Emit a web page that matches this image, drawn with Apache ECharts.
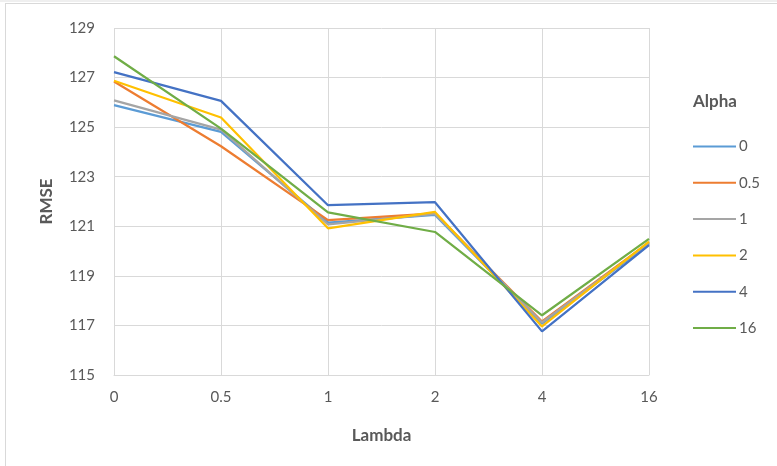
<!DOCTYPE html>
<html>
<head>
<meta charset="utf-8">
<script src="https://cdn.jsdelivr.net/npm/echarts@6/dist/echarts.min.js"></script>
<style>
  html, body { margin: 0; padding: 0; background: #ffffff; }
  #chart { width: 777px; height: 466px; }
</style>
</head>
<body>
<div id="chart"></div>
<script>
// Lambda values along the x axis
const lambdas = ['0', '0.5', '1', '2', '4', '16'];

// RMSE for each Alpha setting
const alpha0   = [125.89, 124.81, 121.15, 121.46, 117.07, 120.28];
const alpha0_5 = [126.84, 124.23, 121.25, 121.52, 117.16, 120.35];
const alpha1   = [126.08, 124.90, 121.08, 121.50, 117.12, 120.32];
const alpha2   = [126.87, 125.39, 120.92, 121.58, 116.96, 120.38];
const alpha4   = [127.22, 126.06, 121.85, 121.97, 116.76, 120.24];
const alpha16  = [127.86, 124.94, 121.56, 120.77, 117.41, 120.49];

const seriesNames = ['0', '0.5', '1', '2', '4', '16'];
const seriesData = [alpha0, alpha0_5, alpha1, alpha2, alpha4, alpha16];
const palette = ['#5b9bd5', '#ed7d31', '#a5a5a5', '#ffc000', '#4472c4', '#70ad47'];

const textColor = '#595959';
const fontFamily = 'Lato, "Open Sans", sans-serif';

const chart = echarts.init(document.getElementById('chart'), null, { renderer: 'canvas' });

const legendTop = 139;
const legendGap = 36.3;

chart.setOption({
  animation: false,
  backgroundColor: '#ffffff',
  color: palette,
  textStyle: { fontFamily: fontFamily },
  grid: { left: 114, right: 128, top: 28, bottom: 91, containLabel: false },
  xAxis: {
    type: 'category',
    data: lambdas,
    boundaryGap: false,
    name: 'Lambda',
    nameLocation: 'middle',
    nameGap: 52,
    nameTextStyle: { color: textColor, fontSize: 17, fontWeight: 'bold', fontFamily: fontFamily },
    axisLine: { show: true, lineStyle: { color: '#d9d9d9', width: 1 } },
    axisTick: { show: false },
    axisLabel: { color: textColor, fontSize: 15, margin: 15, fontFamily: fontFamily },
    splitLine: { show: true, lineStyle: { color: '#d9d9d9', width: 1 } }
  },
  yAxis: {
    type: 'value',
    min: 115,
    max: 129,
    interval: 2,
    name: 'RMSE',
    nameLocation: 'middle',
    nameGap: 59,
    nameRotate: 90,
    nameTextStyle: { color: textColor, fontSize: 17, fontWeight: 'bold', fontFamily: fontFamily },
    axisLine: { show: false },
    axisTick: { show: false },
    axisLabel: { color: textColor, fontSize: 15, margin: 19, fontFamily: fontFamily },
    splitLine: { show: true, lineStyle: { color: '#d9d9d9', width: 1 } }
  },
  legend: seriesNames.map((n, i) => ({
    data: [n],
    orient: 'vertical',
    left: 693,
    top: legendTop + i * legendGap,
    itemWidth: 43,
    itemHeight: 14,
    itemGap: 0,
    icon: 'path://M0,6.5 L43,6.5 L43,8.5 L0,8.5 Z',
    textStyle: { color: textColor, fontSize: 15, padding: [0, 0, 0, -2], fontFamily: fontFamily },
    padding: 0,
    selectedMode: false
  })),
  graphic: [
    { type: 'rect', shape: { x: 0, y: 0, width: 777, height: 2 }, style: { fill: '#efefef' }, silent: true },
    { type: 'line', shape: { x1: 5, y1: 3.5, x2: 777, y2: 3.5 }, style: { stroke: '#d9d9d9', lineWidth: 1 }, silent: true },
    { type: 'line', shape: { x1: 5.5, y1: 3, x2: 5.5, y2: 466 }, style: { stroke: '#d9d9d9', lineWidth: 1 }, silent: true },
    { type: 'text', left: 693, top: 93, style: { text: 'Alpha', fill: textColor, font: 'bold 17px ' + fontFamily }, silent: true }
  ],
  series: seriesNames.map((n, i) => ({
    name: n,
    type: 'line',
    data: seriesData[i],
    symbol: 'none',
    lineStyle: { width: 2.25, color: palette[i] },
    itemStyle: { color: palette[i] },
    z: 2 + i
  }))
});
</script>
</body>
</html>
